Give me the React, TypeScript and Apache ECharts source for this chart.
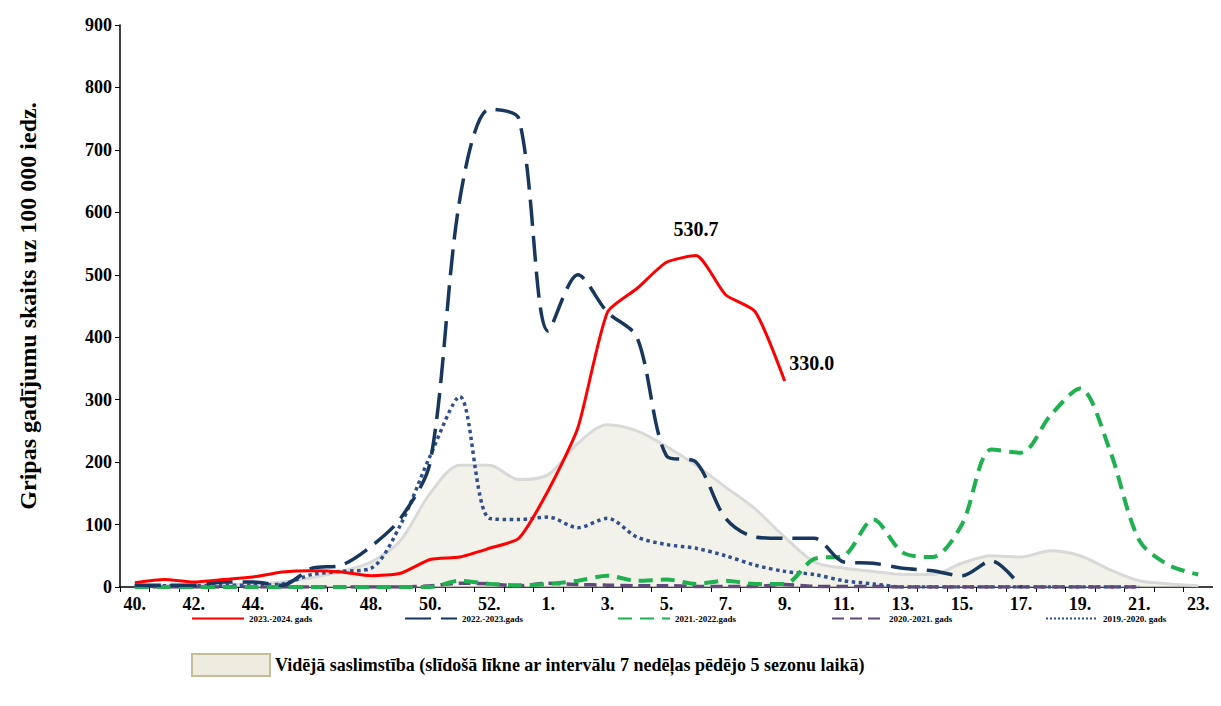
import React, { useEffect, useRef } from "react";
import * as echarts from "echarts";

const weeks = ["40.","41.","42.","43.","44.","45.","46.","47.","48.","49.","50.","51.","52.","53.","1.","2.","3.","4.","5.","6.","7.","8.","9.","10.","11.","12.","13.","14.","15.","16.","17.","18.","19.","20.","21.","22.","23."];
const s2324 = [7,12,8,12,16,24,26,24,18,22,44,48,62,78,155,255,440,478,520,530.7,468,441,330];
const s2223 = [3,3,3,8,8,3,30,35,65,110,200,620,765,750,410,500,440,400,210,200,110,80,78,78,40,38,30,26,18,42,0];
const s2122 = [0,0,0,0,0,0,0,0,0,0,0,10,5,3,5,10,18,10,12,5,10,5,5,45,50,108,55,48,100,220,215,275,318,220,75,35,20];
const s2021 = [0,0,0,0,0,0,0,0,0,0,2,6,5,2,6,4,3,2,2,1,1,1,4,1,1,1,0,0,0,0,0,0,0,0,0];
const s1920 = [2,2,2,3,3,5,20,25,30,100,210,305,110,108,112,95,110,80,68,62,50,35,25,20,10,5,0,0,0,0,0,0,0,0,0];
const avg = [2,3,3,4,5,8,15,25,40,75,150,195,195,172,180,230,260,250,225,195,160,125,80,40,30,25,20,20,38,50,48,58,50,28,10,5,2];
const seasonNames = ["2023.-2024. gads", "2022.-2023.gads", "2021.-2022.gads", "2020.-2021. gads", "2019.-2020. gads"];
const avgName = "Vidējā saslimstība (slīdošā līkne ar intervālu 7 nedēļas pēdējo 5 sezonu laikā)";

const F = "Liberation Serif, Times New Roman, serif";

export default function App() {
  const ref = useRef<HTMLDivElement>(null);
  useEffect(() => {
    const chart = echarts.init(ref.current!, undefined, { renderer: "svg" });
    const line = (name: string, data: number[], color: string, type: any, width = 3.5) => ({
      name, type: "line", data, smooth: 0.3, symbol: "none",
      lineStyle: { color, width, type }, itemStyle: { color },
    });
    const lefts = [178, 391, 604, 818, 1032];
    chart.setOption({
      animation: false,
      textStyle: { fontFamily: F },
      grid: { left: 107, right: 8, top: 17, bottom: 111 },
      legend: [
        ...seasonNames.map((n, i) => ({
          data: [n], top: 601, left: lefts[i], itemWidth: 52, itemHeight: 8, itemGap: 4,
          itemStyle: { color: "transparent", borderWidth: 0 },
          textStyle: { fontFamily: F, fontWeight: "bold", fontSize: 9, color: "#000" },
        })),
        {
          data: [{ name: avgName, icon: "rect" }],
          top: 640, left: 178, itemWidth: 78, itemHeight: 22,
          textStyle: { fontFamily: F, fontWeight: "bold", fontSize: 18, color: "#000" },
        },
      ],
      xAxis: {
        type: "category", data: weeks, boundaryGap: true,
        axisLine: { lineStyle: { color: "#000", width: 1.5 } },
        axisTick: { show: true, interval: 0, lineStyle: { color: "#000" } },
        axisLabel: { interval: 1, color: "#000", fontWeight: "bold", fontSize: 18, fontFamily: F },
      },
      yAxis: {
        type: "value", min: 0, max: 900, interval: 100,
        name: "Gripas gadījumu skaits uz 100 000 iedz.", nameLocation: "middle", nameGap: 80,
        nameTextStyle: { fontFamily: F, fontWeight: "bold", fontSize: 24, color: "#000" },
        axisLine: { show: true, lineStyle: { color: "#000", width: 1.5 } },
        axisTick: { show: true, lineStyle: { color: "#000" } },
        splitLine: { show: false },
        axisLabel: { color: "#000", fontWeight: "bold", fontSize: 18, fontFamily: F },
      },
      series: [
        {
          name: avgName,
          type: "line", data: avg, smooth: 0.3, symbol: "none",
          lineStyle: { color: "#d9d9d9", width: 3 },
          itemStyle: { color: "#eeece1", borderColor: "#c4bd97", borderWidth: 1 },
          areaStyle: { color: "#eeece1" },
        },
        line(seasonNames[4], s1920, "#2f4f8f", "dotted", 3.5),
        line(seasonNames[3], s2021, "#604a7b", [12, 6], 3.5),
        line(seasonNames[2], s2122, "#1fb04f", [14, 8], 4),
        line(seasonNames[1], s2223, "#17375e", [26, 10], 3.5),
        {
          ...line(seasonNames[0], s2324, "#ff0000", "solid", 3),
          smooth: 0.2,
          markPoint: {
            symbol: "circle", symbolSize: 1,
            itemStyle: { color: "transparent" },
            label: { show: true, color: "#000", fontWeight: "bold", fontSize: 20, fontFamily: F, formatter: (p: any) => p.value.toFixed(1) },
            data: [
              { coord: [19, 530.7], value: 530.7, label: { position: "top", distance: 16 } },
              { coord: [22, 330], value: 330.0, label: { position: "right", distance: 4, offset: [0, -18] } },
            ],
          },
        },
      ],
    });
    return () => chart.dispose();
  }, []);
  return <div ref={ref} style={{ width: 1213, height: 690 }} />;
}
